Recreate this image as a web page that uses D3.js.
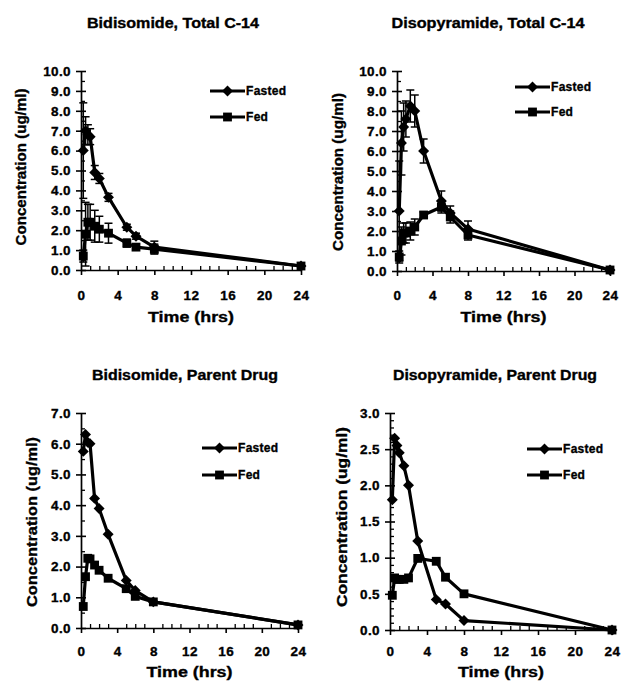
<!DOCTYPE html>
<html><head><meta charset="utf-8">
<script src="https://cdn.jsdelivr.net/npm/d3@7"></script>
<style>
body{margin:0;background:#fff}
svg{display:block}
text{font-family:"Liberation Sans",Arial,Helvetica,sans-serif;font-weight:bold;fill:#000;stroke:#000;stroke-width:0.35px}
</style>
</head><body>
<svg id="chart" width="621" height="689"></svg>
<script>
// ---------- data ----------
const times = [0.25, 0.5, 0.75, 1, 1.5, 2, 3, 5, 6, 8, 24];
const xTickValues = [0, 4, 8, 12, 16, 20, 24];
const seriesNames = ["Fasted", "Fed"];
const panelTitles = ["Bidisomide, Total C-14", "Disopyramide, Total C-14", "Bidisomide, Parent Drug", "Disopyramide, Parent Drug"];
const xAxisTitle = "Time (hrs)";
const yAxisTitle = "Concentration (ug/ml)";

const bidTotalFasted   = [6.0, 7.0, 6.8, 6.7, 4.9, 4.6, 3.65, 2.15, 1.7, 1.15, 0.2];
const bidTotalFastedSD = [2.4, 0.7, 0.5, 0.4, 0.35, 0.25, 0.2, 0.15, 0.15, 0.3, 0.1];
const bidTotalFed      = [0.7, 1.8, 2.4, 2.4, 2.2, 2.05, 1.85, 1.35, 1.15, 1.05, 0.2];
const bidTotalFedSD    = [0.3, 1.6, 0.9, 0.9, 0.8, 0.65, 0.5, 0.2, 0.15, 0.25, 0.1];

const disTotalFasted   = [3.0, 6.4, 7.2, 7.6, 8.25, 8.0, 6.0, 3.5, 2.9, 2.1, 0.05];
const disTotalFastedSD = [2.5, 1.6, 1.2, 0.9, 0.8, 0.8, 0.6, 0.5, 0.35, 0.4, 0.05];
const disTotalFed      = [0.7, 1.5, 1.9, 1.9, 2.0, 2.2, 2.8, 3.2, 2.7, 1.8, 0.05];
const disTotalFedSD    = [0.3, 0.7, 0.5, 0.5, 0.45, 0.4, 0.15, 0.3, 0.3, 0.25, 0.05];

const bidParentFasted  = [5.75, 6.3, 6.05, 6.0, 4.22, 3.89, 3.05, 1.55, 1.22, 0.85, 0.1];
const bidParentFed     = [0.7, 1.67, 2.27, 2.25, 2.05, 1.88, 1.62, 1.28, 1.03, 0.85, 0.1];

const disParentFasted  = [1.8, 2.65, 2.55, 2.45, 2.27, 2.0, 1.23, 0.42, 0.36, 0.13, 0.0];
const disParentFed     = [0.48, 0.72, 0.70, 0.70, 0.70, 0.72, 0.99, 0.95, 0.73, 0.50, 0.0];

const yTicks10 = [0,1,2,3,4,5,6,7,8,9,10];
const yTicks7  = [0,1,2,3,4,5,6,7];
const yTicks3  = [0,0.5,1,1.5,2,2.5,3];

// ---------- layout (positions / styles) ----------
const layouts = [
  {x0:81,  x1:301, yb:270, yt:71,  minor:0.5, titleX:173, titleY:28,  titleW:172, ylabX:21,  ylabY:167, ylabW:157, xlabY:322, xtickY:300, legX:210, legY:91,  legGap:26},
  {x0:397, x1:610, yb:271, yt:71,  minor:0.5, titleX:488, titleY:28,  titleW:193, ylabX:338, ylabY:172, ylabW:158, xlabY:322, xtickY:300, legX:515, legY:87,  legGap:25},
  {x0:81,  x1:298, yb:628, yt:413, minor:0.5, titleX:185, titleY:380, titleW:186, ylabX:32,  ylabY:522, ylabW:170, xlabY:677, xtickY:656, legX:202, legY:448, legGap:27},
  {x0:390, x1:612, yb:630, yt:413, minor:0.1, titleX:495, titleY:380, titleW:204, ylabX:342, ylabY:517, ylabW:180, xlabY:677, xtickY:656, legX:527, legY:449, legGap:26}
];

const panels = [
  {title:panelTitles[0], yTicks:yTicks10, series:[{v:bidTotalFasted, sd:bidTotalFastedSD, sym:"diamond"},{v:bidTotalFed, sd:bidTotalFedSD, sym:"square"}]},
  {title:panelTitles[1], yTicks:yTicks10, series:[{v:disTotalFasted, sd:disTotalFastedSD, sym:"diamond"},{v:disTotalFed, sd:disTotalFedSD, sym:"square"}]},
  {title:panelTitles[2], yTicks:yTicks7,  series:[{v:bidParentFasted, sd:null, sym:"diamond"},{v:bidParentFed, sd:null, sym:"square"}]},
  {title:panelTitles[3], yTicks:yTicks3,  series:[{v:disParentFasted, sd:null, sym:"diamond"},{v:disParentFed, sd:null, sym:"square"}]}
];

const diamondType = {draw(ctx, size){const r=Math.sqrt(size/2);ctx.moveTo(0,-r);ctx.lineTo(r,0);ctx.lineTo(0,r);ctx.lineTo(-r,0);ctx.closePath();}};
const symbolFor = s => s === "diamond" ? d3.symbol().type(diamondType).size(60)() : d3.symbol().type(d3.symbolSquare).size(78)();

const svg = d3.select("#chart");

panels.forEach((p, i) => {
  const L = layouts[i];
  const yMax = p.yTicks[p.yTicks.length-1];
  const x = d3.scaleLinear().domain([0,24]).range([L.x0, L.x1]);
  const y = d3.scaleLinear().domain([0,yMax]).range([L.yb, L.yt]);
  const g = svg.append("g");

  // title
  g.append("text").attr("x", L.titleX).attr("y", L.titleY).attr("text-anchor","middle")
    .attr("font-size", 14).attr("textLength", L.titleW).attr("lengthAdjust","spacingAndGlyphs").text(p.title);

  // y axis: minor ticks
  const minorVals = d3.range(0, yMax + 1e-9, L.minor).filter(v => !p.yTicks.some(t => Math.abs(t-v) < 1e-9));
  g.append("g").attr("transform", `translate(${L.x0},0)`)
    .call(d3.axisRight(y).tickValues(minorVals).tickSize(4).tickFormat(""))
    .call(a => a.select(".domain").remove())
    .call(a => a.selectAll("line").attr("stroke","#000").attr("stroke-width",1.3));
  // y axis: major
  const fmt = d3.format(".1f");
  g.append("g").attr("transform", `translate(${L.x0},0)`)
    .call(d3.axisLeft(y).tickValues(p.yTicks).tickSizeInner(5).tickSizeOuter(0).tickPadding(5).tickFormat(fmt))
    .call(a => a.select(".domain").attr("stroke","#000").attr("stroke-width",1.7))
    .call(a => a.selectAll(".tick line").attr("x1",5).attr("stroke","#000").attr("stroke-width",1.6))
    .call(a => a.selectAll(".tick text").attr("font-size",13.5).attr("font-family","'Liberation Sans',Arial,sans-serif").attr("font-weight","bold").attr("letter-spacing",0.4).attr("fill","#000"));

  // x axis: minor ticks (each hour)
  const xMinor = d3.range(1, 24).filter(v => v % 4 !== 0);
  g.append("g").attr("transform", `translate(0,${L.yb})`)
    .call(d3.axisTop(x).tickValues(xMinor).tickSize(4).tickFormat(""))
    .call(a => a.select(".domain").remove())
    .call(a => a.selectAll("line").attr("stroke","#000").attr("stroke-width",1.3));
  // x axis: major
  g.append("g").attr("transform", `translate(0,${L.yb})`)
    .call(d3.axisBottom(x).tickValues(xTickValues).tickSizeInner(5).tickSizeOuter(0).tickPadding(3).tickFormat(d3.format("d")))
    .call(a => a.select(".domain").attr("stroke","#000").attr("stroke-width",1.7))
    .call(a => a.selectAll(".tick line").attr("stroke","#000").attr("stroke-width",1.6))
    .call(a => a.selectAll(".tick text").attr("y", null).attr("dy", null)
         .attr("transform", `translate(0,${L.xtickY - L.yb})`)
         .attr("font-size",13.5).attr("font-family","'Liberation Sans',Arial,sans-serif").attr("font-weight","bold").attr("letter-spacing",0.4).attr("fill","#000"));

  // axis titles
  g.append("text").attr("x", (L.x0+L.x1)/2).attr("y", L.xlabY).attr("text-anchor","middle")
    .attr("font-size", 14.5).attr("textLength", 86).attr("lengthAdjust","spacingAndGlyphs").text(xAxisTitle);
  g.append("text").attr("transform", `translate(${L.ylabX},${L.ylabY}) rotate(-90)`).attr("dy","0.35em").attr("text-anchor","middle")
    .attr("font-size", 14.5).attr("textLength", L.ylabW).attr("lengthAdjust","spacingAndGlyphs").text(yAxisTitle);

  // series
  const line = d3.line().x((d,j) => x(times[j])).y(d => y(d));
  p.series.forEach(s => {
    if (s.sd) {
      const eb = g.append("g").attr("stroke","#000").attr("stroke-width",1.5);
      s.v.forEach((v,j) => {
        const cx = x(times[j]);
        const lo = y(Math.max(0, v - s.sd[j])), hi = y(v + s.sd[j]);
        eb.append("line").attr("x1",cx).attr("x2",cx).attr("y1",lo).attr("y2",hi);
        eb.append("line").attr("x1",cx-4).attr("x2",cx+4).attr("y1",hi).attr("y2",hi);
        eb.append("line").attr("x1",cx-4).attr("x2",cx+4).attr("y1",lo).attr("y2",lo);
      });
    }
    g.append("path").datum(s.v).attr("d", line).attr("fill","none").attr("stroke","#000").attr("stroke-width",3.2).attr("stroke-linejoin","round");
    g.append("g").selectAll("path").data(s.v).join("path")
      .attr("transform", (d,j) => `translate(${x(times[j])},${y(d)})`)
      .attr("d", symbolFor(s.sym)).attr("fill","#000");
  });

  // legend
  p.series.forEach((s, k) => {
    const ly = L.legY + k*L.legGap;
    g.append("line").attr("x1", L.legX).attr("x2", L.legX+35).attr("y1", ly).attr("y2", ly).attr("stroke","#000").attr("stroke-width",3.2);
    g.append("path").attr("transform", `translate(${L.legX+17.5},${ly})`).attr("d", symbolFor(s.sym)).attr("fill","#000");
    g.append("text").attr("x", L.legX+36).attr("y", ly).attr("dy","0.35em").attr("font-size",12).attr("letter-spacing",0.3).text(seriesNames[k]);
  });
});
</script>
</body></html>
